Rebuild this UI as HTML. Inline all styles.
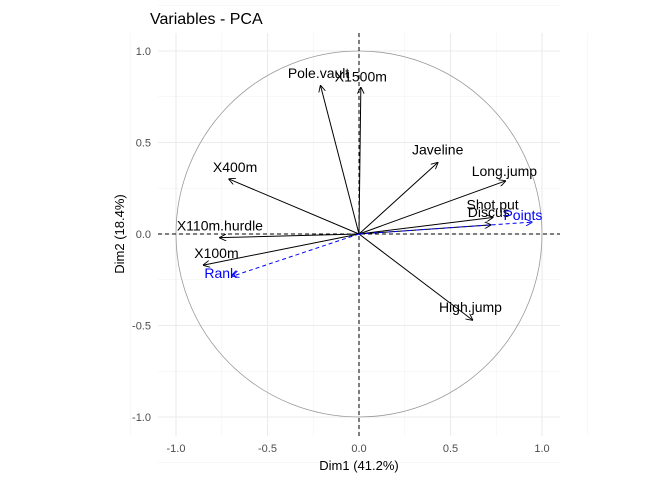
<!DOCTYPE html>
<html><head><meta charset="utf-8"><style>
body{margin:0;background:#fff;font-family:"Liberation Sans",sans-serif}
</style></head><body>
<svg id="c" width="672" height="480" xmlns="http://www.w3.org/2000/svg">
<defs>
<marker id="ab" viewBox="0 0 10 10" refX="9" refY="5" markerWidth="7" markerHeight="7" orient="auto-start-reverse" markerUnits="userSpaceOnUse"><path d="M0,0 L10,5 L0,10" fill="none" stroke="#000" stroke-width="1.3"/></marker>
<marker id="ablue" viewBox="0 0 10 10" refX="9" refY="5" markerWidth="7" markerHeight="7" orient="auto-start-reverse" markerUnits="userSpaceOnUse"><path d="M0,0 L10,5 L0,10" fill="none" stroke="#0000ff" stroke-width="1.3"/></marker>
</defs>
<g id="grid"></g><g id="marks"></g>
<text x="150" y="24" font-size="16" fill="#000">Variables - PCA</text>
<text x="359" y="470" font-size="13" text-anchor="middle" fill="#000">Dim1 (41.2%)</text>
<text transform="translate(124,234) rotate(-90)" font-size="13" text-anchor="middle" fill="#000">Dim2 (18.4%)</text>
</svg>
<script>
const vars=["X100m","X110m.hurdle","X400m","Pole.vault","X1500m","Javeline","Long.jump","Shot.put","Discus","High.jump","Rank","Points"];
const dim1=[-0.85,-0.76,-0.71,-0.21,0.01,0.43,0.80,0.73,0.72,0.62,-0.69,0.945];
const dim2=[-0.17,-0.02,0.30,0.81,0.80,0.39,0.29,0.09,0.05,-0.47,-0.23,0.065];
const supp=[0,0,0,0,0,0,0,0,0,0,1,1];
const ticks=[-1.0,-0.5,0.0,0.5,1.0];
const tickLabels=["-1.0","-0.5","0.0","0.5","1.0"];
const ldx=[13,0,6,-2,0,0,-1,0,-2,-2,-12,-9];
const ldy=[-12,-12,-12,-13,-11,-13,-10,-13,-13,-13,-3,-7];
const X=v=>359+v*183, Y=v=>234-v*183;
const NS="http://www.w3.org/2000/svg";
const g=document.getElementById('grid'), m=document.getElementById('marks');
function el(t,a,p){const e=document.createElementNS(NS,t);for(const k in a)e.setAttribute(k,a[k]);p.appendChild(e);return e;}
for(let v=-1.25;v<=1.26;v+=0.5){
  const l1=el('line',{x1:X(v),x2:X(v),y1:33,y2:436,stroke:'#f2f2f2','stroke-width':0.6},g);
  
  const l2=el('line',{x1:158,x2:560,y1:Y(v),y2:Y(v),stroke:'#f2f2f2','stroke-width':0.6},g);
  
}
ticks.forEach((t,i)=>{
  const a=el('line',{x1:X(t),x2:X(t),y1:33,y2:436,stroke:'#ebebeb','stroke-width':1.1},g);
  
  const b=el('line',{x1:158,x2:560,y1:Y(t),y2:Y(t),stroke:'#ebebeb','stroke-width':1.1},g);
  
  const tx=el('text',{x:X(t),y:452,'font-size':11,'text-anchor':'middle',fill:'#4d4d4d'},g);tx.textContent=tickLabels[i];
  
  const ty=el('text',{x:151,y:Y(t)+4,'font-size':11,'text-anchor':'end',fill:'#4d4d4d'},g);ty.textContent=tickLabels[i];
  
});
const circ=el('circle',{cx:X(0),cy:Y(0),r:183,fill:'none',stroke:'#999','stroke-width':0.8},m);

const h=el('line',{x1:158,x2:560,y1:Y(0),y2:Y(0),stroke:'#000','stroke-dasharray':'4,3'},m);

const v=el('line',{x1:X(0),x2:X(0),y1:33,y2:436,stroke:'#000','stroke-dasharray':'4,3'},m);

vars.forEach((n,i)=>{
  const col=supp[i]?'#0000ff':'#000';
  const a=el('line',{x1:X(0),y1:Y(0),x2:X(dim1[i]),y2:Y(dim2[i]),stroke:col,'stroke-width':1,'marker-end':supp[i]?'url(#ablue)':'url(#ab)'},m);
  if(supp[i])a.setAttribute('stroke-dasharray','4,3');
  
  
  const t=el('text',{x:X(dim1[i])+ldx[i],y:Y(dim2[i])+ldy[i]+5,'font-size':14,'text-anchor':'middle',fill:col},m);
  t.textContent=n;
  
  
});
</script>
</body></html>
